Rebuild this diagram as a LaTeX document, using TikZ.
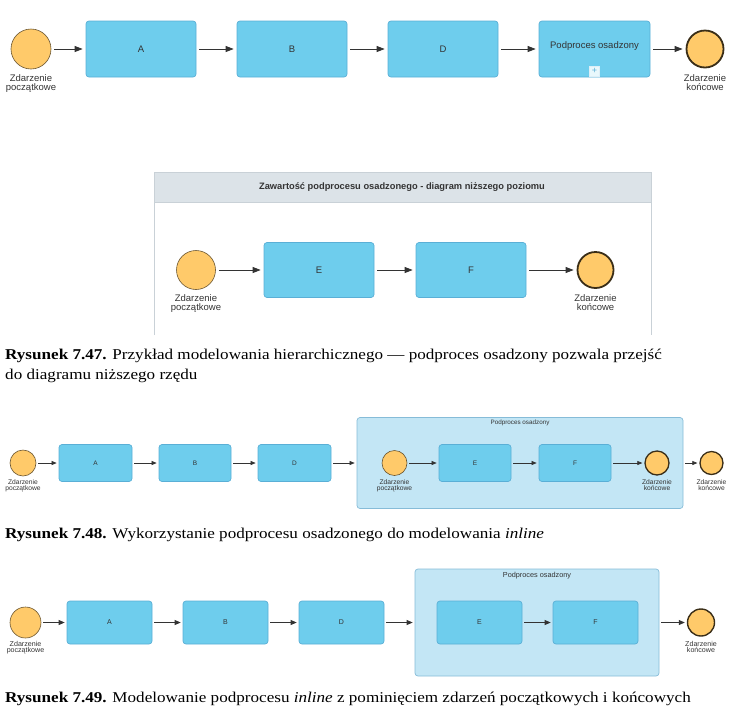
\documentclass[tikz,border=0pt]{standalone}
\usepackage{fontspec}
\setmainfont{Liberation Serif}
\setsansfont{Liberation Sans}
\usetikzlibrary{arrows.meta}
\definecolor{taskfill}{HTML}{6ECDED}
\definecolor{taskdraw}{HTML}{5AAFD6}
\definecolor{evfill}{HTML}{FFCA6A}
\definecolor{evdraw}{HTML}{6A5530}
\definecolor{enddraw}{HTML}{3A2E18}
\definecolor{subfill}{HTML}{C3E6F5}
\definecolor{subdraw}{HTML}{86BCD8}
\definecolor{hdrfill}{HTML}{DCE3E8}
\definecolor{paneldraw}{HTML}{C9D1D7}
\definecolor{txt}{HTML}{333333}
\newcommand{\capwide}[1]{\scalebox{1.14}[1]{#1}}
\tikzset{
  task/.style={draw=taskdraw,fill=taskfill,rounded corners=3pt,line width=0.7pt,text=txt,font=\sffamily\fontsize{#1}{#1}\selectfont,inner sep=0pt},
  subbox/.style={draw=subdraw,fill=subfill,rounded corners=3pt,line width=0.7pt,inner sep=0pt},
  startev/.style={circle,draw=evdraw,fill=evfill,line width=0.6pt,inner sep=0pt,minimum size=#1},
  endev/.style={circle,draw=enddraw,fill=evfill,line width=1.8pt,inner sep=0pt,minimum size=#1},
  lbl/.style={text=txt,font=\sffamily\fontsize{#1}{#1}\selectfont,align=center,inner sep=0pt,anchor=north},
  flowL/.style={draw=txt,line width=0.8pt,-{Triangle[length=8pt,width=6pt]},shorten <=3pt,shorten >=3pt},
  flowS/.style={draw=txt,line width=0.6pt,-{Triangle[length=5pt,width=4pt]},shorten <=2pt,shorten >=2pt},
  flowM/.style={draw=txt,line width=0.7pt,-{Triangle[length=6pt,width=5pt]},shorten <=2pt,shorten >=2pt},
  captext/.style={anchor=base west,inner sep=0pt,font=\fontsize{15}{15}\selectfont,text=black}
}
\begin{document}
\begin{tikzpicture}[x=1pt,y=-1pt]
\useasboundingbox (0,0) rectangle (733,713);
% ===== Top row =====
\node[startev=40pt] (s1) at (31,49) {};
\node[task=9.5,minimum width=110pt,minimum height=56pt] (A1) at (141,49) {A};
\node[task=9.5,minimum width=110pt,minimum height=56pt] (B1) at (292,49) {B};
\node[task=9.5,minimum width=110pt,minimum height=56pt] (D1) at (443,49) {D};
\node[task=9.5,minimum width=111pt,minimum height=56pt] (P1) at (594.5,49) {};
\node[text=txt,font=\sffamily\fontsize{9.5}{9.5}\selectfont,inner sep=0pt] (P1t) at (594.5,46) {Podproces osadzony};
\node[draw=white!80!taskdraw,fill=white!85!taskfill,minimum size=10pt,inner sep=0pt,text=taskdraw,font=\sffamily\fontsize{9}{9}\selectfont] (P1p) at (594.5,71) {+};
\node[endev=37pt] (e1) at (705,49) {};
\node[lbl=9.5] (s1l) at (31,74) {Zdarzenie\\[-0.3pt]początkowe};
\node[lbl=9.5] (e1l) at (705,74) {Zdarzenie\\[-0.3pt]końcowe};
\draw[flowL] (s1) -- (A1);
\draw[flowL] (A1) -- (B1);
\draw[flowL] (B1) -- (D1);
\draw[flowL] (D1) -- (P1);
\draw[flowL] (P1) -- (e1);
% ===== Panel =====
\fill[hdrfill] (154,172) rectangle (651,202);
\draw[paneldraw,line width=0.8pt] (154,335) -- (154,172) -- (651,172) -- (651,335);
\draw[paneldraw,line width=0.8pt] (154,202) -- (651,202);
\node[text=txt,font=\sffamily\bfseries\fontsize{9.3}{9.3}\selectfont,inner sep=0pt] (ptitle) at (402,187) {Zawartość podprocesu osadzonego - diagram niższego poziomu};
\node[startev=39pt] (s2) at (196,270) {};
\node[task=9.5,minimum width=110pt,minimum height=55pt] (E2) at (319,270) {E};
\node[task=9.5,minimum width=110pt,minimum height=55pt] (F2) at (471,270) {F};
\node[endev=36pt] (e2) at (595.5,270) {};
\node[lbl=9.5] (s2l) at (196,294) {Zdarzenie\\[-0.3pt]początkowe};
\node[lbl=9.5] (e2l) at (595.5,294) {Zdarzenie\\[-0.3pt]końcowe};
\draw[flowL] (s2) -- (E2);
\draw[flowL] (E2) -- (F2);
\draw[flowL] (F2) -- (e2);
% caption 7.47
\node[captext] (c1) at (5,359) {\capwide{\textbf{Rysunek 7.47.} Przykład modelowania hierarchicznego — podproces osadzony pozwala przejść}};
\node[captext] (c1b) at (5,379) {\capwide{do diagramu niższego rzędu}};
% ===== Fig 7.48 =====
\node[subbox,minimum width=326pt,minimum height=91pt] (sub3) at (520,463) {};
\node[text=txt,font=\sffamily\fontsize{6.3}{6.3}\selectfont,inner sep=0pt] (sub3t) at (520,423) {Podproces osadzony};
\node[startev=26pt] (s3) at (23,463) {};
\node[task=6.5,minimum width=73pt,minimum height=37pt] (A3) at (95.5,463) {A};
\node[task=6.5,minimum width=72pt,minimum height=37pt] (B3) at (195,463) {B};
\node[task=6.5,minimum width=73pt,minimum height=37pt] (D3) at (294.5,463) {D};
\node[startev=25pt] (s3i) at (394.5,463) {};
\node[task=6.5,minimum width=72pt,minimum height=37pt] (E3) at (475,463) {E};
\node[task=6.5,minimum width=72pt,minimum height=37pt] (F3) at (575,463) {F};
\node[endev=24pt,line width=1.3pt] (e3i) at (657,463) {};
\node[endev=23pt,line width=1.3pt] (e3) at (711.5,463) {};
\node[lbl=6.7] (s3l) at (23,479) {Zdarzenie\\[-0.5pt]początkowe};
\node[lbl=6.7] (s3il) at (394.5,479) {Zdarzenie\\[-0.5pt]początkowe};
\node[lbl=6.7] (e3il) at (657,479) {Zdarzenie\\[-0.5pt]końcowe};
\node[lbl=6.7] (e3l) at (711.5,479) {Zdarzenie\\[-0.5pt]końcowe};
\draw[flowS] (s3) -- (A3);
\draw[flowS] (A3) -- (B3);
\draw[flowS] (B3) -- (D3);
\draw[flowS] (D3) -- (sub3);
\draw[flowS] (s3i) -- (E3);
\draw[flowS] (E3) -- (F3);
\draw[flowS] (F3) -- (e3i);
\draw[flowS] (sub3) -- (e3);
\node[captext] (c2) at (5,538) {\capwide{\textbf{Rysunek 7.48.} Wykorzystanie podprocesu osadzonego do modelowania \textit{inline}}};
% ===== Fig 7.49 =====
\node[subbox,minimum width=244pt,minimum height=107pt] (sub4) at (537,622.5) {};
\node[text=txt,font=\sffamily\fontsize{7.3}{7.3}\selectfont,inner sep=0pt] (sub4t) at (537,576) {Podproces osadzony};
\node[startev=31pt] (s4) at (25.5,622.5) {};
\node[task=7,minimum width=85pt,minimum height=43pt] (A4) at (109.5,622.5) {A};
\node[task=7,minimum width=85pt,minimum height=43pt] (B4) at (225.5,622.5) {B};
\node[task=7,minimum width=85pt,minimum height=43pt] (D4) at (341.5,622.5) {D};
\node[task=7,minimum width=85pt,minimum height=43pt] (E4) at (479.5,622.5) {E};
\node[task=7,minimum width=85pt,minimum height=43pt] (F4) at (595.5,622.5) {F};
\node[endev=27pt,line width=1.4pt] (e4) at (701,622.5) {};
\node[lbl=7.1] (s4l) at (25.5,641) {Zdarzenie\\[-0.5pt]początkowe};
\node[lbl=7.1] (e4l) at (701,641) {Zdarzenie\\[-0.5pt]końcowe};
\draw[flowM] (s4) -- (A4);
\draw[flowM] (A4) -- (B4);
\draw[flowM] (B4) -- (D4);
\draw[flowM] (D4) -- (sub4);
\draw[flowM] (E4) -- (F4);
\draw[flowM] (sub4) -- (e4);
\node[captext] (c3) at (5,702) {\capwide{\textbf{Rysunek 7.49.} Modelowanie podprocesu \textit{inline} z pominięciem zdarzeń początkowych i końcowych}};
\end{tikzpicture}
\end{document}
